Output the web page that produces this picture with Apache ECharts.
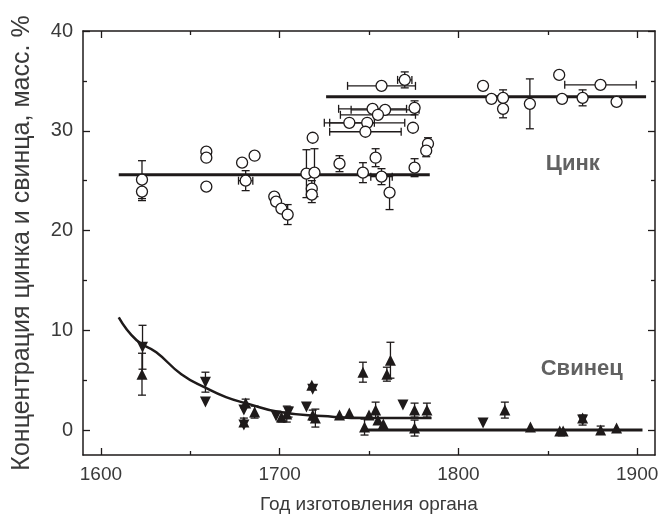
<!DOCTYPE html>
<html>
<head>
<meta charset="utf-8">
<script src="https://cdn.jsdelivr.net/npm/echarts@6/dist/echarts.min.js"></script>
<style>
    html, body { margin: 0; background: #fff; }
    #chart { width: 666px; height: 520px; }
</style>
</head>
<body>
<div id="chart"></div>
<script>
    // [год, значение, погрешность по y, погрешность по x]
    const zincPoints = [
        [1623, 25.1, 1.9, 0], [1623, 23.9, 0.9, 0],
        [1659, 27.9, 0, 0], [1659, 27.3, 0, 0], [1659, 24.4, 0, 0],
        [1679, 26.8, 0, 0], [1686, 27.5, 0, 0], [1681, 25.0, 1.0, 4],
        [1697, 23.4, 0, 0], [1698, 22.9, 0, 0], [1701, 22.2, 0, 0], [1704.5, 21.6, 1.0, 0],
        [1715, 25.7, 2.4, 0], [1719.5, 25.8, 2.4, 0], [1718.5, 29.3, 0, 0],
        [1718, 24.2, 0.8, 0], [1718, 23.6, 0.8, 0],
        [1733.5, 26.7, 0.8, 0], [1746.6, 25.8, 1.0, 0], [1753.7, 27.3, 0.9, 0],
        [1757, 25.4, 0.8, 6], [1761.5, 23.8, 1.7, 0], [1775.5, 26.3, 0.9, 0],
        [1783, 28.7, 0.6, 0], [1782, 28.0, 0.6, 0],
        [1757, 34.5, 0, 19], [1770, 35.1, 0.8, 4],
        [1752, 32.2, 0, 19], [1759, 32.1, 0, 19], [1775.5, 32.3, 0.7, 0],
        [1755, 31.6, 0, 21], [1739, 30.8, 0, 14], [1749, 30.8, 0, 21],
        [1748, 29.9, 0, 20], [1774.6, 30.3, 0, 0],
        [1813.8, 34.5, 0, 0], [1818.5, 33.2, 0, 0], [1825, 33.3, 0.8, 0], [1825, 32.2, 0.9, 0],
        [1840, 32.7, 2.5, 0], [1856.4, 35.6, 0, 0], [1858, 33.2, 0, 0],
        [1869.5, 33.3, 0.8, 0], [1879.5, 34.6, 0, 20], [1888.5, 32.9, 0, 0]
    ];

    const leadUp = [
        [1623, 5.6, 2.1, 0], [1681, 2.7, 0.4, 0], [1686, 1.8, 0.6, 0], [1680, 0.8, 0.4, 0],
        [1701, 1.3, 0.5, 0], [1704, 1.6, 0.8, 0], [1718.5, 1.5, 0.5, 0], [1720, 1.2, 0.9, 0],
        [1718, 4.5, 0, 0], [1733.5, 1.5, 0, 0], [1739, 1.7, 0, 0], [1746.6, 5.8, 1.0, 0],
        [1750, 1.5, 0, 0], [1753.7, 2.0, 0.8, 0], [1755, 1.0, 0, 0], [1747.5, 0.3, 0.8, 0],
        [1758, 0.6, 0, 0], [1760, 5.6, 0.7, 0], [1762, 7.0, 1.8, 0],
        [1775.5, 2.0, 0.7, 0], [1775.5, 0.2, 0.8, 0], [1782.4, 2.0, 0.7, 0],
        [1826, 2.0, 0.8, 0], [1840.3, 0.3, 0, 0], [1856.7, -0.1, 0, 0], [1858.6, -0.1, 0, 0],
        [1869.5, 1.2, 0, 0], [1879.6, 0.0, 0.4, 0], [1888.5, 0.2, 0, 0]
    ];

    const leadDown = [
        [1623.3, 8.3, 2.2, 0], [1658.5, 4.8, 1.0, 0], [1658.5, 2.8, 0, 0],
        [1680, 2.0, 0, 0], [1680, 0.5, 0, 0], [1698, 1.4, 0, 0], [1705, 1.8, 0.5, 0],
        [1718.5, 4.1, 0, 0], [1715, 2.3, 0, 0], [1769, 2.5, 0, 0],
        [1813.8, 0.7, 0, 0], [1869.5, 1.0, 0.5, 0]
    ];

    // линии аппроксимации
    const zincFitEarly = [[1610, 25.6], [1784, 25.6]];
    const zincFitLate = [[1726, 33.4], [1905, 33.4]];
    const leadFitCurve = [
        [1610, 11.3], [1620, 9.0], [1631, 7.8], [1645, 5.6], [1659, 4.2], [1670, 3.3],
        [1681, 2.7], [1700, 1.8], [1724, 1.4], [1750, 1.2], [1785, 1.2]
    ];
    const leadFitLate = [[1746, 0], [1903, 0]];

    const xMajorTicks = [1600, 1700, 1800, 1900];
    const xMinorTicks = [1650, 1750, 1850];
    const yMajorTicks = [0, 10, 20, 30, 40];
    const yMinorTicks = [5, 15, 25, 35];

    const seriesLabels = [[1864, 26.7, 'Цинк'], [1869, 6.1, 'Свинец']];

    const ink = '#1e1a1a';
    const textColor = '#3a3a3a';
    const fontFamily = 'Liberation Sans, Arial, sans-serif';

    const xRange = {min: 1590, max: 1910};
    const yRange = {min: -2.5, max: 40};

    const makeAxis = (kind, position, ticks, len, withLabels) => ({
        type: 'value',
        position,
        ...(kind === 'x' ? xRange : yRange),
        axisLine: {show: withLabels !== null, onZero: false, lineStyle: {color: ink, width: 1.5}},
        axisTick: {show: true, inside: true, length: len, customValues: ticks, lineStyle: {color: ink, width: 1.3}},
        axisLabel: {
            show: !!withLabels,
            customValues: ticks,
            formatter: v => String(v),
            color: textColor,
            fontSize: kind === 'x' ? 19 : 20,
            fontFamily,
            margin: 10
        },
        splitLine: {show: false}
    });

    const errorBars = (points, z) => ({
        type: 'custom',
        data: points,
        encode: {x: 0, y: 1},
        z,
        silent: true,
        renderItem(params, api) {
            const x = api.value(0), y = api.value(1), dy = api.value(2), dx = api.value(3);
            const cap = 4;
            const style = {stroke: ink, lineWidth: 1.3};
            const children = [];
            const seg = (x1, y1, x2, y2) => children.push({type: 'line', shape: {x1, y1, x2, y2}, style});
            if (dy) {
                const top = api.coord([x, y + dy]);
                const bot = api.coord([x, y - dy]);
                seg(top[0], top[1], bot[0], bot[1]);
                seg(top[0] - cap, top[1], top[0] + cap, top[1]);
                seg(bot[0] - cap, bot[1], bot[0] + cap, bot[1]);
            }
            if (dx) {
                const l = api.coord([x - dx, y]);
                const r = api.coord([x + dx, y]);
                seg(l[0], l[1], r[0], r[1]);
                seg(l[0], l[1] - cap, l[0], l[1] + cap);
                seg(r[0], r[1] - cap, r[0], r[1] + cap);
            }
            return {type: 'group', children};
        }
    });

    const fitLine = (data, width, smooth) => ({
        type: 'line',
        data,
        smooth,
        showSymbol: false,
        silent: true,
        z: 4,
        lineStyle: {color: ink, width}
    });

    const option = {
        animation: false,
        backgroundColor: '#fff',
        grid: {left: 83, right: 11, top: 31, bottom: 65, outerBoundsMode: 'none'},
        xAxis: [
            {
                ...makeAxis('x', 'bottom', xMajorTicks, 7, true),
                name: 'Год изготовления органа',
                nameLocation: 'middle',
                nameGap: 40,
                nameTextStyle: {color: textColor, fontSize: 19, fontFamily}
            },
            makeAxis('x', 'bottom', xMinorTicks, 4, null),
            makeAxis('x', 'top', xMajorTicks, 7, false),
            makeAxis('x', 'top', xMinorTicks, 4, null)
        ],
        yAxis: [
            {
                ...makeAxis('y', 'left', yMajorTicks, 7, true),
                name: 'Концентрация цинка и свинца, масс. %',
                nameLocation: 'middle',
                nameGap: 48,
                nameTextStyle: {color: textColor, fontSize: 25, fontFamily}
            },
            makeAxis('y', 'left', yMinorTicks, 4, null),
            makeAxis('y', 'right', yMajorTicks, 7, false),
            makeAxis('y', 'right', yMinorTicks, 4, null)
        ],
        series: [
            fitLine(zincFitEarly, 3, false),
            fitLine(zincFitLate, 3, false),
            fitLine(leadFitCurve, 2.5, true),
            fitLine(leadFitLate, 3, false),
            errorBars(zincPoints, 3),
            errorBars(leadUp.concat(leadDown), 3),
            {
                type: 'scatter',
                data: zincPoints,
                symbol: 'circle',
                symbolSize: 11,
                z: 5,
                itemStyle: {color: '#fff', borderColor: ink, borderWidth: 1.3, opacity: 1}
            },
            {
                type: 'scatter',
                data: leadUp,
                symbol: 'triangle',
                symbolSize: 11,
                z: 5,
                itemStyle: {color: ink, opacity: 1}
            },
            {
                type: 'scatter',
                data: leadDown,
                symbol: 'triangle',
                symbolRotate: 180,
                symbolSize: 11,
                z: 5,
                itemStyle: {color: ink, opacity: 1}
            },
            {
                type: 'scatter',
                data: seriesLabels,
                symbolSize: 0,
                silent: true,
                z: 6,
                label: {
                    show: true,
                    position: 'inside',
                    formatter: p => p.data[2],
                    color: textColor,
                    fontSize: 22,
                    fontWeight: 'bold',
                    fontFamily
                }
            }
        ]
    };

    const chart = echarts.init(document.getElementById('chart'));
    chart.setOption(option);
</script>
</body>
</html>
